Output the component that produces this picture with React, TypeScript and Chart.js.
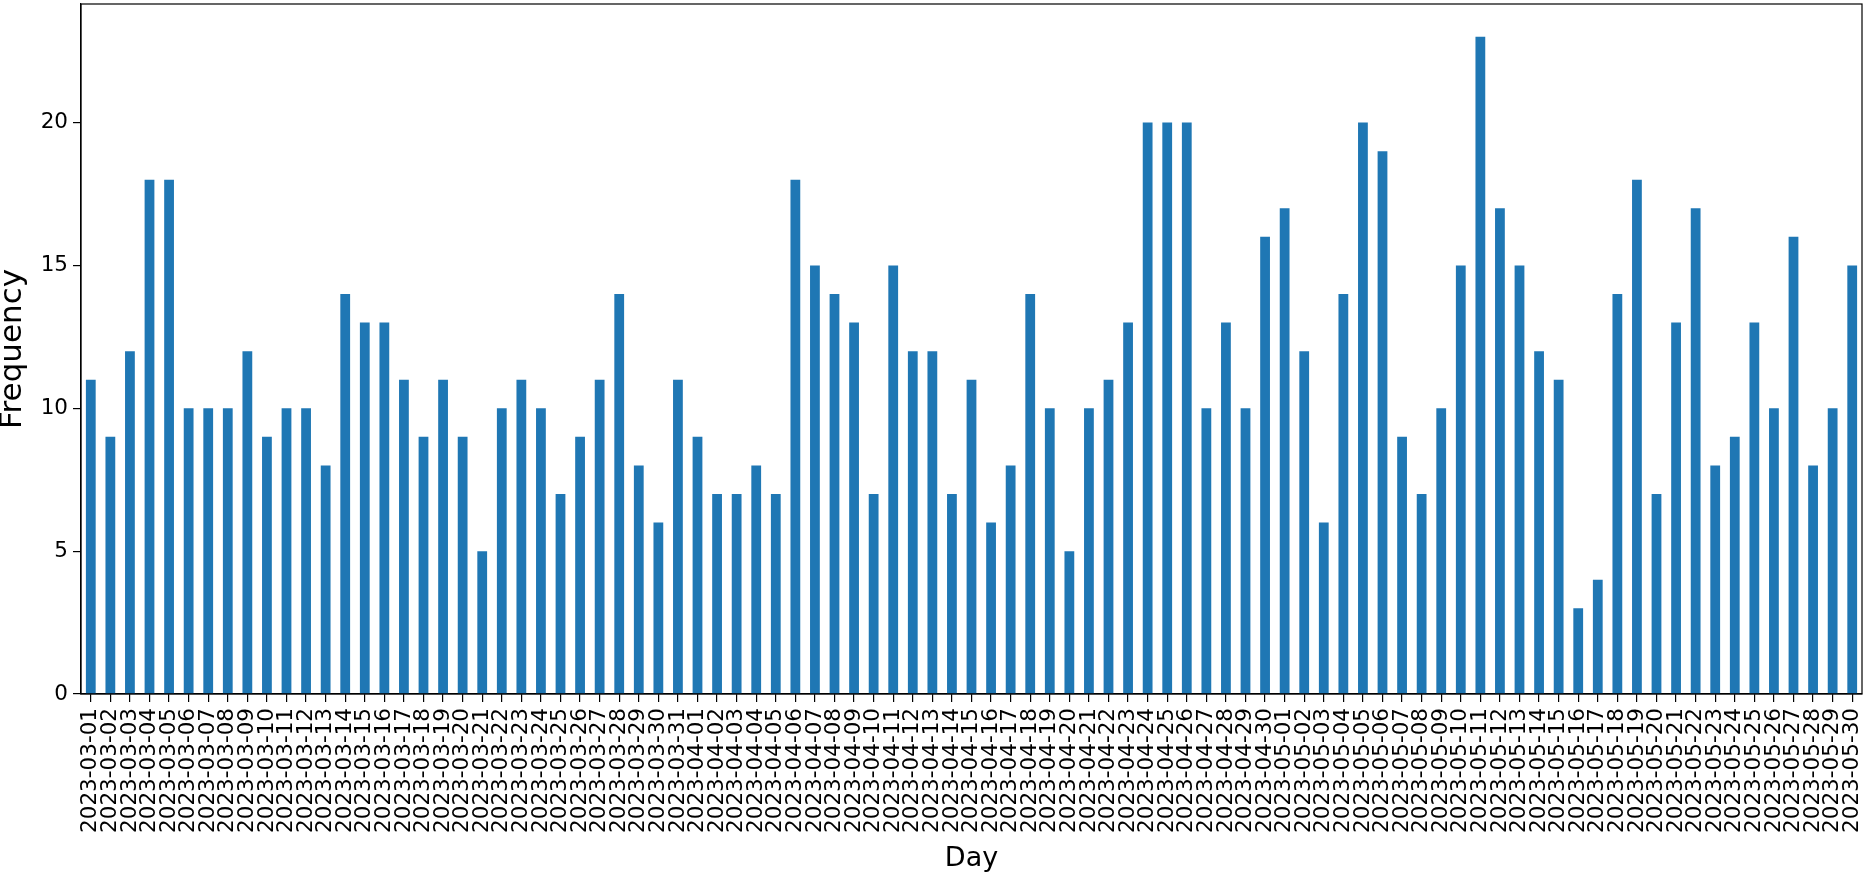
import React, { useEffect, useRef } from "react";
import { Chart, registerables } from "chart.js";

Chart.register(...registerables);

const days: string[] = [
  "2023-03-01","2023-03-02","2023-03-03","2023-03-04","2023-03-05","2023-03-06","2023-03-07","2023-03-08","2023-03-09","2023-03-10",
  "2023-03-11","2023-03-12","2023-03-13","2023-03-14","2023-03-15","2023-03-16","2023-03-17","2023-03-18","2023-03-19","2023-03-20",
  "2023-03-21","2023-03-22","2023-03-23","2023-03-24","2023-03-25","2023-03-26","2023-03-27","2023-03-28","2023-03-29","2023-03-30",
  "2023-03-31","2023-04-01","2023-04-02","2023-04-03","2023-04-04","2023-04-05","2023-04-06","2023-04-07","2023-04-08","2023-04-09",
  "2023-04-10","2023-04-11","2023-04-12","2023-04-13","2023-04-14","2023-04-15","2023-04-16","2023-04-17","2023-04-18","2023-04-19",
  "2023-04-20","2023-04-21","2023-04-22","2023-04-23","2023-04-24","2023-04-25","2023-04-26","2023-04-27","2023-04-28","2023-04-29",
  "2023-04-30","2023-05-01","2023-05-02","2023-05-03","2023-05-04","2023-05-05","2023-05-06","2023-05-07","2023-05-08","2023-05-09",
  "2023-05-10","2023-05-11","2023-05-12","2023-05-13","2023-05-14","2023-05-15","2023-05-16","2023-05-17","2023-05-18","2023-05-19",
  "2023-05-20","2023-05-21","2023-05-22","2023-05-23","2023-05-24","2023-05-25","2023-05-26","2023-05-27","2023-05-28","2023-05-29",
  "2023-05-30",
];

const frequencyMarch: number[] = [
  11, 9, 12, 18, 18, 10, 10, 10, 12, 9,
  10, 10, 8, 14, 13, 13, 11, 9, 11, 9,
  5, 10, 11, 10, 7, 9, 11, 14, 8, 6,
  11,
];
const frequencyApril: number[] = [
  9, 7, 7, 8, 7, 18, 15, 14, 13, 7,
  15, 12, 12, 7, 11, 6, 8, 14, 10, 5,
  10, 11, 13, 20, 20, 20, 10, 13, 10, 16,
];
const frequencyMay: number[] = [
  17, 12, 6, 14, 20, 19, 9, 7, 10, 15,
  23, 17, 15, 12, 11, 3, 4, 14, 18, 7,
  13, 17, 8, 9, 13, 10, 16, 8, 10, 15,
];
const frequency: number[] = [...frequencyMarch, ...frequencyApril, ...frequencyMay];

const yTicks: number[] = [0, 5, 10, 15, 20];
const yMax = 24.15;

const framePlugin = {
  id: "frame",
  afterDraw(chart: any) {
    const { ctx, chartArea } = chart;
    ctx.save();
    ctx.strokeStyle = "#000";
    ctx.lineWidth = 1.2;
    ctx.strokeRect(chartArea.left, chartArea.top, chartArea.right - chartArea.left, chartArea.bottom - chartArea.top);
    ctx.restore();
  },
};

export default function App() {
  const ref = useRef<HTMLCanvasElement | null>(null);
  useEffect(() => {
    if (!ref.current) return;
    Chart.defaults.font.family = "'DejaVu Sans', sans-serif";
    const chart = new Chart(ref.current, {
      type: "bar",
      data: {
        labels: days,
        datasets: [
          {
            label: "Frequency",
            data: frequency,
            backgroundColor: "#1f77b4",
            borderWidth: 0,
            barPercentage: 0.5,
            categoryPercentage: 1.0,
          },
        ],
      },
      options: {
        responsive: false,
        animation: false,
        devicePixelRatio: 1,
        layout: { padding: { top: 4, right: 4, left: 0, bottom: 0 } },
        plugins: { legend: { display: false }, tooltip: { enabled: false } },
        scales: {
          x: {
            type: "category",
            offset: true,
            grid: { display: true, drawOnChartArea: false, drawTicks: true, tickLength: 8, color: "#000", offset: false, lineWidth: 1.2 },
            border: { display: true, color: "#000", width: 1.2 },
            ticks: { autoSkip: false, maxRotation: 90, minRotation: 90, color: "#000", font: { size: 21.5 }, padding: 6 },
            title: { display: true, text: "Day", color: "#000", font: { size: 27 }, padding: { top: 0, bottom: 1 } },
            afterFit: (s: any) => {
              s.height = 182;
              s.paddingLeft = 0;
              s.paddingRight = 0;
            },
          },
          y: {
            min: 0,
            max: yMax,
            grid: { display: true, drawOnChartArea: false, drawTicks: true, tickLength: 8, color: "#000", lineWidth: 1.2 },
            border: { display: true, color: "#000", width: 1.2 },
            ticks: { color: "#000", font: { size: 21.5 }, padding: 5 },
            title: { display: true, text: "Frequency", color: "#000", font: { size: 31 }, padding: { top: -6, bottom: 0 } },
            afterBuildTicks: (s: any) => { s.ticks = yTicks.map((v) => ({ value: v })); },
            afterFit: (s: any) => {
              s.width = 81;
              s.paddingTop = 0;
              s.paddingBottom = 0;
            },
          },
        },
      },
      plugins: [framePlugin],
    });
    return () => chart.destroy();
  }, []);
  return (
    <div style={{ position: "fixed", left: 0, top: 0, width: 1866, height: 876, background: "#fff" }}>
      <canvas ref={ref} width={1866} height={876} style={{ display: "block" }} />
    </div>
  );
}
